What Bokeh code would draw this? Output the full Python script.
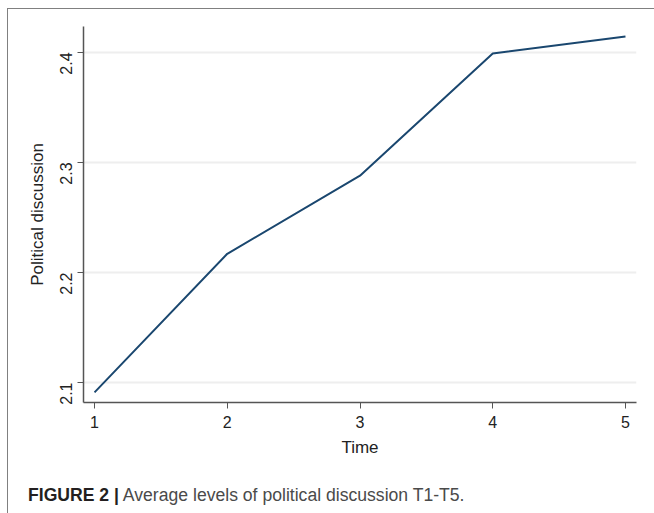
import math
from bokeh.plotting import figure
from bokeh.layouts import column
from bokeh.models import Range1d, FixedTicker, Div
from bokeh.embed import file_html
from bokeh.resources import INLINE

time_points = [1, 2, 3, 4, 5]
political_discussion = [2.091, 2.217, 2.288, 2.399, 2.4145]
x_ticks = [1, 2, 3, 4, 5]
y_ticks = [2.1, 2.2, 2.3, 2.4]
caption_bold = "FIGURE 2 |"
caption_text = "Average levels of political discussion T1-T5."

W, H = 646, 464
p = figure(width=W, height=H, output_backend="svg", toolbar_location=None,
           x_range=Range1d(0.917, 5.083), y_range=Range1d(2.0818, 2.4236),
           min_border_left=75, min_border_right=18, min_border_top=17,
           min_border_bottom=71)
p.outline_line_color = None
p.background_fill_color = "white"
p.border_fill_color = "white"

p.line(time_points, political_discussion, line_color="#1a476f", line_width=2)

font = "Liberation Sans"
p.xaxis.ticker = FixedTicker(ticks=x_ticks)
p.yaxis.ticker = FixedTicker(ticks=y_ticks)
p.xaxis.axis_label = "Time"
p.yaxis.axis_label = "Political discussion"
for ax in (p.xaxis, p.yaxis):
    ax.axis_line_color = "#555555"
    ax.axis_line_width = 1.5
    ax.major_tick_line_color = "#555555"
    ax.major_tick_out = 6
    ax.major_tick_in = 0
    ax.minor_tick_line_color = None
    ax.major_label_text_font = font
    ax.major_label_text_font_size = "16px"
    ax.major_label_text_color = "#222222"
    ax.axis_label_text_font = font
    ax.axis_label_text_font_size = "17px"
    ax.axis_label_text_font_style = "normal"
    ax.axis_label_text_color = "#222222"
p.yaxis.major_label_orientation = math.pi / 2
p.yaxis.major_label_standoff = 11
p.yaxis.axis_label_standoff = 5
p.xaxis.major_label_standoff = 7
p.xaxis.axis_label_standoff = 7

p.xgrid.grid_line_color = None
p.ygrid.ticker = FixedTicker(ticks=y_ticks)
p.ygrid.grid_line_color = "#eeeeee"
p.ygrid.grid_line_width = 2

caption = Div(
    text=f'<span style="font-weight:bold;color:#231f20">{caption_bold}</span> {caption_text}',
    width=W, height=40,
    styles={"font-family": "Liberation Sans", "font-size": "17.6px",
            "color": "#4a4a4a", "padding-left": "15px", "padding-top": "7px",
            "line-height": "20px", "white-space": "nowrap"})

root = column(p, caption, spacing=0,
              styles={"margin-left": "7px", "margin-top": "8px",
                      "border-left": "1px solid #808080",
                      "border-top": "1px solid #808080"})

open("out.html", "w").write(file_html(root, INLINE))
